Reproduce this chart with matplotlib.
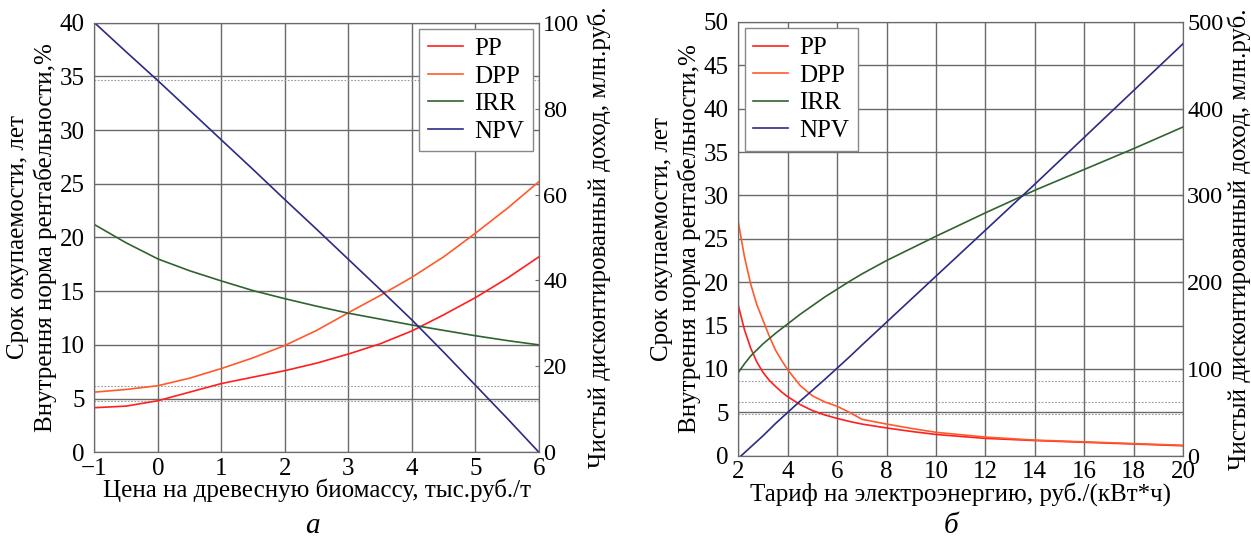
import matplotlib
matplotlib.use('Agg')
import matplotlib.pyplot as plt

plt.rcParams['font.family'] = ['Liberation Serif', 'DejaVu Serif']
plt.rcParams['font.size'] = 15

# --- panel a: biomass price ---
x_bio = [-1, -0.5, 0, 0.5, 1, 1.5, 2, 2.5, 3, 3.5, 4, 4.5, 5, 5.5, 6]
pp_bio = [4.15, 4.3, 4.8, 5.6, 6.4, 7.0, 7.6, 8.3, 9.15, 10.1, 11.3, 12.8, 14.4, 16.2, 18.2]
dpp_bio = [5.6, 5.85, 6.2, 6.9, 7.8, 8.8, 9.95, 11.35, 13.0, 14.6, 16.3, 18.2, 20.4, 22.7, 25.2]
irr_bio = [21.2, 19.5, 18.0, 16.9, 15.95, 15.05, 14.3, 13.6, 12.95, 12.4, 11.85, 11.35, 10.85, 10.4, 10.0]
npv_bio = [100, 93.2, 86.5, 79.6, 72.7, 65.8, 58.8, 51.9, 44.9, 37.9, 30.8, 23.3, 15.6, 7.9, 0]

# --- panel b: electricity tariff ---
x_tar = [2, 2.25, 2.5, 2.75, 3, 3.25, 3.5, 3.75, 4, 4.5, 5, 5.5, 6, 6.5, 7, 8, 9, 10, 12, 14, 16, 18, 20]
pp_tar = [17.3, 14.5, 12.4, 10.8, 9.6, 8.7, 8.0, 7.35, 6.8, 5.9, 5.2, 4.7, 4.3, 3.95, 3.65, 3.2, 2.8, 2.45,
          2.0, 1.75, 1.55, 1.35, 1.15]
dpp_tar = [26.9, 22.9, 19.8, 17.4, 15.6, 13.8, 12.2, 11.0, 9.9, 8.1, 6.9, 6.2, 5.7, 5.0, 4.2, 3.65, 3.15, 2.7,
           2.15, 1.8, 1.6, 1.4, 1.2]
irr_tar = [9.6, 10.6, 11.5, 12.2, 12.9, 13.5, 14.1, 14.65, 15.2, 16.3, 17.3, 18.3, 19.2, 20.1, 20.95, 22.5,
           23.9, 25.3, 28.0, 30.6, 33.0, 35.4, 37.9]
npv_tar = [-3, 3.5, 10, 16.5, 23, 30, 37, 43.5, 50, 63, 75.5, 88, 101, 114, 127.5, 154, 180.5, 207,
           260, 313, 367, 421, 475]

dots_bio = [34.65, 6.2, 4.8]
dots_tar = [8.65, 6.15, 4.85]

c_pp = '#ff1f1f'
c_dpp = '#ff5a2a'
c_irr = '#2f6430'
c_npv = '#2b2b85'
gridc = '#6a6a6a'

ylab_l = 'Срок окупаемости, лет\nВнутрення норма рентабельности,%'
ylab_r = 'Чистый дисконтированный доход, млн.руб.'


def panel(rect, x, pp, dpp, irr, npv, xlim, xticks, ylim, yticks, y2lim, y2ticks,
          dots, xlabel, legloc, letter, letx, r_pad):
    ax = fig.add_axes(rect)
    ax.plot(x, pp, color=c_pp, lw=1.2, label='PP')
    ax.plot(x, dpp, color=c_dpp, lw=1.2, label='DPP')
    ax.plot(x, irr, color=c_irr, lw=1.2, label='IRR')
    for d in dots:
        ax.axhline(d, color='#999999', lw=0.8, ls=(0, (1.5, 1.5)), zorder=1)
    ax.set_xlim(*xlim)
    ax.set_ylim(*ylim)
    ax.set_xticks(xticks)
    ax.set_yticks(yticks)
    ax.grid(True, color=gridc, lw=1.0)
    ax.set_axisbelow(True)
    ax.tick_params(axis='y', length=0, pad=7, labelsize=18)
    ax.tick_params(axis='x', length=0, pad=4, labelsize=18)
    for s in ax.spines.values():
        s.set_color(gridc)
    ax.set_xlabel(xlabel, fontsize=18, labelpad=-1)
    ax.set_ylabel(ylab_l, fontsize=18, labelpad=2, linespacing=1.25)

    ax2 = ax.twinx()
    ax2.plot(x, npv, color=c_npv, lw=1.2, label='NPV')
    ax2.set_ylim(*y2lim)
    ax2.set_yticks(y2ticks)
    ax2.tick_params(length=3, direction='in', color=gridc, pad=3, labelsize=17.5)
    for s in ax2.spines.values():
        s.set_color(gridc)
    ax2.set_ylabel(ylab_r, fontsize=18, labelpad=r_pad)

    h1, l1 = ax.get_legend_handles_labels()
    h2, l2 = ax2.get_legend_handles_labels()
    leg = ax2.legend(h1 + h2, l1 + l2, loc=legloc, fontsize=18, fancybox=False,
                     framealpha=1, edgecolor='#888888', handlelength=1.4,
                     handletextpad=0.45, borderpad=0.35, borderaxespad=0.25,
                     labelspacing=0.2)
    leg.get_frame().set_linewidth(1.0)
    fig.text(letx, 0.0, letter, fontsize=21, style='italic', ha='center', va='bottom')


fig = plt.figure(figsize=(12.51, 5.39), dpi=100)

panel([0.0755, 0.1609, 0.3553, 0.797], x_bio, pp_bio, dpp_bio, irr_bio, npv_bio,
      (-1, 6), range(-1, 7), (0, 40), range(0, 41, 5), (0, 100), range(0, 101, 20),
      dots_bio, 'Цена на древесную биомассу, тыс.руб./т', 'upper right', 'а', 0.250, 6)

panel([0.5902, 0.1545, 0.3555, 0.8047], x_tar, pp_tar, dpp_tar, irr_tar, npv_tar,
      (2, 20), range(2, 21, 2), (0, 50), range(0, 51, 5), (0, 500), range(0, 501, 100),
      dots_tar, 'Тариф на электроэнергию, руб./(кВт*ч)', 'upper left', 'б', 0.760, 3)

fig.savefig('out.png', dpi=100)
